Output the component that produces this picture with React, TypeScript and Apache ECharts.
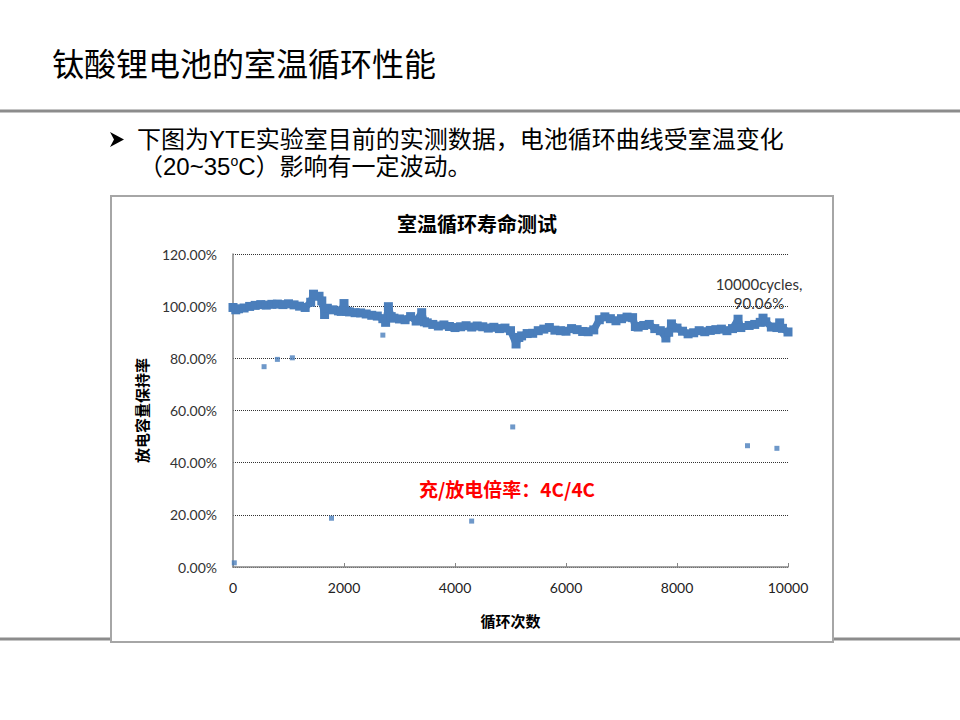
import React, { useEffect, useRef } from "react";
import * as echarts from "echarts";

const slideTitle = "钛酸锂电池的室温循环性能";
const bulletLine1 = "下图为YTE实验室目前的实测数据，电池循环曲线受室温变化";
const chartTitle = "室温循环寿命测试";
const xAxisName = "循环次数";
const yAxisName = "放电容量保持率";
const rateNote = "充/放电倍率：4C/4C";
const endNote = "10000cycles,\n90.06%";

const xTicks = [0, 2000, 4000, 6000, 8000, 10000];
const yTicks = [0, 20, 40, 60, 80, 100, 120];

// main cycling band (cycle number, retention %)
const mainCycles = [
  0, 50, 100, 200, 300, 400, 500, 600, 700, 800, 900, 1000, 1100, 1200, 1300, 1400, 1450, 1550, 1600, 1650,
  1700, 1800, 1900, 1950, 2000, 2050, 2100, 2200, 2300, 2400, 2500, 2600, 2700, 2750, 2800, 2850, 2900, 3000,
  3100, 3200, 3300, 3400, 3450, 3500, 3600, 3700, 3800, 3900, 4000, 4100, 4200, 4300, 4400, 4500, 4600, 4700,
  4800, 4900, 5000, 5100, 5150, 5200, 5300, 5400, 5500, 5600, 5700, 5800, 5900, 6000, 6100, 6200, 6300, 6400,
  6500, 6600, 6700, 6800, 6900, 7000, 7100, 7200, 7250, 7300, 7400, 7500, 7600, 7700, 7800, 7850, 7900, 8000,
  8100, 8200, 8300, 8400, 8500, 8600, 8700, 8800, 8900, 9000, 9100, 9150, 9300, 9400, 9500, 9550, 9600, 9700,
  9800, 9850, 9900, 10000,
];
const mainRetention = [
  99.5, 98.6, 99.0, 99.3, 99.9, 100.3, 100.6, 100.4, 100.7, 100.8, 100.6, 100.9, 100.5, 100.0, 99.5, 101.5, 104.6, 103.8, 102.0, 96.8,
  99.2, 98.6, 98.2, 98.0, 101.0, 98.0, 97.8, 97.5, 97.4, 97.0, 96.5, 96.2, 95.2, 93.8, 99.8, 96.0, 95.4, 95.1,
  94.8, 96.0, 94.3, 97.5, 94.0, 93.6, 93.0, 92.4, 92.8, 92.2, 91.8, 92.1, 92.5, 92.0, 92.4, 92.1, 91.6, 91.9,
  91.4, 91.6, 90.6, 85.5, 88.0, 88.6, 89.5, 89.6, 90.6, 91.2, 91.8, 90.8, 90.6, 90.4, 91.4, 91.0, 90.3, 90.2,
  90.9, 94.8, 95.9, 95.2, 94.4, 95.2, 95.8, 95.6, 92.2, 92.0, 92.6, 93.0, 91.4, 90.6, 87.8, 90.0, 93.2, 91.6,
  90.4, 89.4, 89.8, 90.6, 90.2, 90.7, 91.0, 91.2, 90.6, 91.4, 95.0, 91.8, 92.6, 93.0, 93.8, 95.4, 94.0, 92.0,
  91.8, 93.6, 91.5, 90.1,
];

// isolated outlier points (cycle number, retention %)
const outlierCycles = [23, 560, 800, 1070, 1775, 2700, 4300, 5040, 9270, 9800];
const outlierRetention = [1.6, 76.8, 79.6, 80.2, 18.7, 88.9, 17.6, 53.7, 46.5, 45.5];

const BLUE = "#4a7ebb";
const CJK = "'Noto Sans CJK SC', sans-serif";
const MIXED = "'Liberation Sans', 'Noto Sans CJK SC', sans-serif";
const LABEL_FONT = "Lato, 'Open Sans', sans-serif";

export default function App() {
  const ref = useRef<HTMLDivElement>(null);

  useEffect(() => {
    if (!ref.current) return;
    const chart = echarts.init(ref.current, null, { renderer: "svg" });

    const mainData = mainCycles.map((c, i) => [c, mainRetention[i]]);
    const outlierData = outlierCycles.map((c, i) => [c, outlierRetention[i]]);

    chart.setOption({
      animation: false,
      backgroundColor: "#ffffff",
      title: {
        text: chartTitle,
        left: 472,
        top: 208,
        textAlign: "center",
        textStyle: { fontFamily: CJK, fontSize: 20, fontWeight: "bold", color: "#000" },
      },
      grid: { left: 233, right: 172, top: 254, bottom: 153 },
      xAxis: {
        type: "value",
        min: 0,
        max: 10000,
        interval: 2000,
        name: xAxisName,
        nameLocation: "middle",
        nameGap: 46,
        nameTextStyle: { fontFamily: CJK, fontSize: 15, fontWeight: "bold", color: "#000" },
        axisLine: { show: true, lineStyle: { color: "#868686", width: 1.5 } },
        axisTick: { show: true, inside: true, length: 4, lineStyle: { color: "#868686" } },
        axisLabel: {
          fontFamily: LABEL_FONT,
          fontSize: 14,
          color: "#222",
          margin: 13,
          formatter: (v: number) => (xTicks.includes(v) ? String(v) : ""),
        },
        splitLine: { show: false },
      },
      yAxis: {
        type: "value",
        min: 0,
        max: 120,
        interval: 20,
        name: yAxisName,
        nameLocation: "middle",
        nameRotate: 90,
        nameGap: 84,
        nameTextStyle: { fontFamily: CJK, fontSize: 15, fontWeight: "bold", color: "#000" },
        axisLine: { show: true, lineStyle: { color: "#868686", width: 1.5 } },
        axisTick: { show: false },
        axisLabel: {
          fontFamily: LABEL_FONT,
          fontSize: 14,
          color: "#333",
          margin: 16,
          formatter: (v: number) => (yTicks.includes(v) ? v.toFixed(2) + "%" : ""),
        },
        splitLine: { show: true, lineStyle: { color: "#333", type: [1, 1], width: 1 } },
      },
      series: [
        {
          type: "line",
          data: mainData,
          symbol: "rect",
          symbolSize: 9,
          showSymbol: true,
          showAllSymbol: true,
          lineStyle: { color: BLUE, width: 7 },
          itemStyle: { color: BLUE },
          z: 3,
        },
        {
          type: "scatter",
          data: outlierData,
          symbol: "rect",
          symbolSize: 5,
          itemStyle: { color: BLUE },
          z: 4,
        },
      ],
      graphic: [
        {
          type: "rect",
          z: -10,
          shape: { x: 111, y: 196, width: 722, height: 446 },
          style: { fill: "#ffffff", stroke: "#a6a6a6", lineWidth: 2 },
        },
        {
          type: "line",
          z: -20,
          shape: { x1: 0, y1: 111, x2: 960, y2: 111 },
          style: { stroke: "#8c8c8c", lineWidth: 3 },
        },
        {
          type: "line",
          z: -20,
          shape: { x1: 0, y1: 639, x2: 111, y2: 639 },
          style: { stroke: "#8c8c8c", lineWidth: 3 },
        },
        {
          type: "line",
          z: -20,
          shape: { x1: 834, y1: 639, x2: 960, y2: 639 },
          style: { stroke: "#8c8c8c", lineWidth: 3 },
        },
        {
          type: "text",
          x: 52,
          y: 62,
          style: {
            text: slideTitle,
            fontFamily: CJK,
            fontSize: 32,
            fill: "#000",
            align: "left",
            verticalAlign: "middle",
          },
        },
        {
          type: "polygon",
          shape: { points: [[110, 132], [124, 139.5], [110, 147], [114, 139.5]] },
          style: { fill: "#000" },
        },
        {
          type: "text",
          x: 137,
          y: 139,
          style: {
            text: bulletLine1,
            fontFamily: MIXED,
            fontSize: 24,
            fill: "#000",
            align: "left",
            verticalAlign: "middle",
          },
        },
        {
          type: "text",
          x: 139,
          y: 166,
          style: {
            text: "（20~35{sup|o}C）影响有一定波动。",
            fontFamily: MIXED,
            fontSize: 24,
            fill: "#000",
            align: "left",
            verticalAlign: "middle",
            rich: {
              sup: {
                fontFamily: MIXED,
                fontSize: 14,
                fill: "#000",
                verticalAlign: "top",
                padding: [0, 0, 10, 0],
              },
            },
          },
        },
        {
          type: "text",
          x: 419,
          y: 488,
          z: 10,
          style: {
            text: rateNote,
            fontFamily: CJK,
            fontSize: 19,
            fontWeight: "bold",
            fill: "#ff0000",
            align: "left",
            verticalAlign: "middle",
          },
        },
        {
          type: "text",
          x: 759,
          y: 293,
          z: 10,
          style: {
            text: endNote,
            fontFamily: LABEL_FONT,
            fontSize: 15,
            lineHeight: 19,
            fill: "#333",
            align: "center",
            verticalAlign: "middle",
          },
        },
      ],
    });

    return () => chart.dispose();
  }, []);

  return (
    <div
      ref={ref}
      style={{ position: "fixed", left: 0, top: 0, width: 960, height: 720, background: "#fff" }}
    />
  );
}
